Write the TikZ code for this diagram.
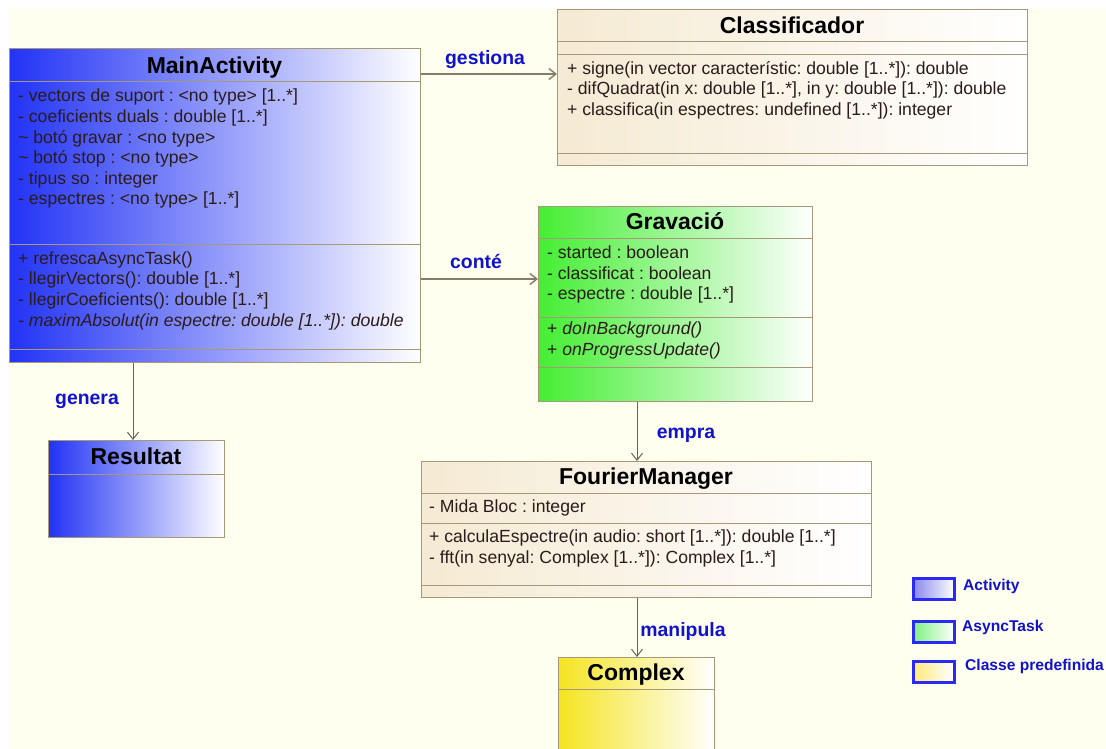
\documentclass[tikz,border=0pt]{standalone}
\usepackage{fontspec}
\setmainfont{Liberation Sans}
\usetikzlibrary{arrows.meta,calc}
\definecolor{bgcream}{HTML}{FEFFEF}
\definecolor{boxborder}{HTML}{A89878}
\definecolor{linecol}{HTML}{857D68}
\definecolor{txtcol}{HTML}{2B1B1B}
\definecolor{lblblue}{HTML}{1212CC}
\definecolor{actblue}{HTML}{2233F5}
\definecolor{asyncgreen}{HTML}{44EE33}
\definecolor{predtan}{HTML}{F5EAD3}
\definecolor{predyellow}{HTML}{F5E421}
\definecolor{legblue}{HTML}{2A2AF2}
\definecolor{legact}{HTML}{8888EE}
\definecolor{legasync}{HTML}{80F080}
\definecolor{legpred}{HTML}{FFE97A}
\newcommand\bodyfnt{\fontsize{17.6}{20.6}\selectfont\frenchspacing}
\newcommand\titlefnt{\fontsize{23}{27}\selectfont\bfseries}
\tikzset{
  classbox/.style={draw=boxborder, line width=1pt, rectangle, inner sep=0pt, anchor=north west},
  sepline/.style={draw=boxborder, line width=1pt},
  titletext/.style={font=\titlefnt, text=black, anchor=base, inner sep=0pt},
  bodytext/.style={font=\bodyfnt, text=txtcol, align=left, anchor=north west, inner sep=0pt},
  assoc/.style={draw=linecol, line width=1.4pt, -{Straight Barb[length=7pt,width=11pt]}},
  vassoc/.style={draw=linecol!80!black, line width=1pt, -{Straight Barb[length=7pt,width=11pt]}},
  assoclabel/.style={font=\fontsize{19.4}{22}\selectfont\bfseries, text=lblblue, inner sep=0pt},
  legbox/.style={draw=legblue, line width=2.5pt, rectangle, inner sep=0pt, minimum width=41, minimum height=21, anchor=north west},
  leglabel/.style={font=\fontsize{15.6}{18}\selectfont\bfseries, text=lblblue, anchor=west, inner sep=0pt}
}
\begin{document}
\begin{tikzpicture}[x=1pt,y=-1pt]
\useasboundingbox (0,0) rectangle (1106,749);
\clip (0,0) rectangle (1106,749);
\fill[white] (0,0) rectangle (1106,749);
\fill[bgcream] (9,9) rectangle (1106,749);

% ---------- MainActivity ----------
\node[classbox, left color=actblue, right color=white, minimum width=411, minimum height=314] (main) at (9,48) {};
\draw[sepline] (main.west |- 0,82) -- (main.east |- 0,82);
\draw[sepline] (main.west |- 0,244) -- (main.east |- 0,244);
\draw[sepline] (main.west |- 0,349) -- (main.east |- 0,349);
\node[titletext] (mainT) at (214.5,73.3) {MainActivity};
\node[bodytext] (mainA) at (18,87.3) {\strut- vectors de suport : <no type> [1..*]\\
- coeficients duals : double [1..*]\\
\textasciitilde\ botó gravar : <no type>\\
\textasciitilde\ botó stop : <no type>\\
- tipus so : integer\\
- espectres : <no type> [1..*]};
\node[bodytext] (mainM) at (18,249.6) {\strut+ refrescaAsyncTask()\\
- llegirVectors(): double [1..*]\\
- llegirCoeficients(): double [1..*]\\
\textit{- maximAbsolut(in espectre: double [1..*]): double}};

% ---------- Classificador ----------
\node[classbox, left color=predtan, right color=white, minimum width=470, minimum height=156] (classif) at (557,9) {};
\draw[sepline] (classif.west |- 0,42) -- (classif.east |- 0,42);
\draw[sepline] (classif.west |- 0,55) -- (classif.east |- 0,55);
\draw[sepline] (classif.west |- 0,154) -- (classif.east |- 0,154);
\node[titletext] (classifT) at (792,33.3) {Classificador};
\node[bodytext] (classifM) at (567,59.6) {\strut+ signe(in vector característic: double [1..*]): double\\
- difQuadrat(in x: double [1..*], in y: double [1..*]): double\\
+ classifica(in espectres: undefined [1..*]): integer};

% ---------- Gravacio ----------
\node[classbox, left color=asyncgreen, right color=white, minimum width=274, minimum height=195] (grav) at (538,206) {};
\draw[sepline] (grav.west |- 0,238) -- (grav.east |- 0,238);
\draw[sepline] (grav.west |- 0,317) -- (grav.east |- 0,317);
\draw[sepline] (grav.west |- 0,367) -- (grav.east |- 0,367);
\node[titletext] (gravT) at (675,229.3) {Gravació};
\node[bodytext] (gravA) at (547,243.9) {\strut- started : boolean\\
- classificat : boolean\\
- espectre : double [1..*]};
\node[bodytext] (gravM) at (547,319.9) {\strut+ \textit{doInBackground()}\\
+ \textit{onProgressUpdate()}};

% ---------- Resultat ----------
\node[classbox, left color=actblue, right color=white, minimum width=176, minimum height=97] (res) at (48,440) {};
\draw[sepline] (res.west |- 0,474) -- (res.east |- 0,474);
\node[titletext] (resT) at (136,464.3) {Resultat};

% ---------- FourierManager ----------
\node[classbox, left color=predtan, right color=white, minimum width=450, minimum height=136] (fourier) at (421,461) {};
\draw[sepline] (fourier.west |- 0,493) -- (fourier.east |- 0,493);
\draw[sepline] (fourier.west |- 0,523) -- (fourier.east |- 0,523);
\draw[sepline] (fourier.west |- 0,585) -- (fourier.east |- 0,585);
\node[titletext] (fourierT) at (646,484.3) {FourierManager};
\node[bodytext] (fourierA) at (429,498.3) {\strut- Mida Bloc : integer};
\node[bodytext] (fourierM) at (429,527.8) {\strut+ calculaEspectre(in audio: short [1..*]): double [1..*]\\
- fft(in senyal: Complex [1..*]): Complex [1..*]};

% ---------- Complex ----------
\node[classbox, left color=predyellow, right color=white, minimum width=156, minimum height=110] (complex) at (558,657) {};
\draw[sepline] (complex.west |- 0,689) -- (complex.east |- 0,689);
\node[titletext] (complexT) at (636,680) {Complex};

% ---------- Connectors ----------
\coordinate (yg) at (0,74);
\coordinate (yc) at (0,279);
\coordinate (xg) at (133,0);
\coordinate (xe) at (637,0);
\draw[assoc] (main.east |- yg) -- (classif.west |- yg);
\draw[assoc] (main.east |- yc) -- (grav.west |- yc);
\draw[vassoc] (xg |- main.south) -- (xg |- res.north);
\draw[vassoc] (xe |- grav.south) -- (xe |- fourier.north);
\draw[vassoc] (xe |- fourier.south) -- (xe |- complex.north);
\node[assoclabel] (lgest) at (485,60) {gestiona};
\node[assoclabel] (lconte) at (476,261) {conté};
\node[assoclabel] (lgen) at (87,401) {genera};
\node[assoclabel] (lempra) at (686,435) {empra};
\node[assoclabel] (lmanip) at (683,631) {manipula};

% ---------- Legend ----------
\node[legbox, left color=legact, right color=white] (leg1) at (912,577) {};
\node[legbox, left color=legasync, right color=white] (leg2) at (912,620) {};
\node[legbox, left color=legpred, right color=white] (leg3) at (912,660) {};
\node[leglabel] (leg1t) at (963,586) {Activity};
\node[leglabel] (leg2t) at (962,627) {AsyncTask};
\node[leglabel] (leg3t) at (965,666) {Classe predefinida};
\end{tikzpicture}
\end{document}
